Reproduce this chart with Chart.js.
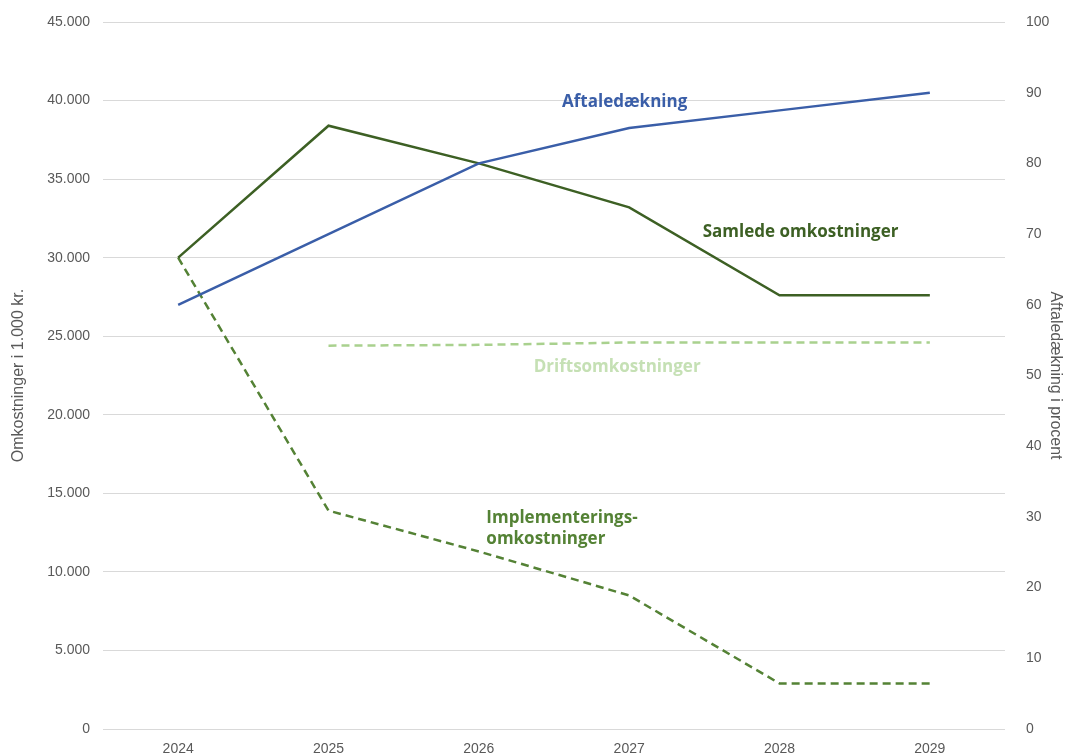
<!DOCTYPE html>
<html><head><meta charset="utf-8">
<script src="https://cdn.jsdelivr.net/npm/chart.js@4/dist/chart.umd.min.js"></script>
<style>html,body{margin:0;padding:0;background:#fff}#wrap{width:1069px;height:754px}</style>
</head><body><div id="wrap"><canvas id="c"></canvas></div>
<script>
const years = ['2024','2025','2026','2027','2028','2029'];
const samlede = [30000, 38400, 36000, 33200, 27600, 27600];
const implementering = [30000, 13900, 11300, 8500, 2900, 2900];
const drift = [null, 24400, 24450, 24600, 24600, 24600];
const aftaledaekning = [60, 70, 80, 85, 87.5, 90];

const labels = [
  {text:['Aftaledækning'], x:2.97, y:39900, color:'#3a5ea8', align:'center'},
  {text:['Samlede omkostninger'], x:4.14, y:31600, color:'#3d6024', align:'center'},
  {text:['Driftsomkostninger'], x:2.92, y:23000, color:'#c5e0b4', align:'center'},
  {text:['Implementerings-','omkostninger'], x:2.05, y:13450, color:'#548235', align:'left'}
];

const labelPlugin = {
  id:'lbl',
  afterDatasetsDraw(chart){
    const ctx = chart.ctx, xs = chart.scales.x, ys = chart.scales.y;
    ctx.save();
    ctx.font = 'bold 17px "Open Sans"';
    ctx.textBaseline = 'middle';
    labels.forEach(l=>{
      const px = xs.getPixelForValue(0) + (xs.getPixelForValue(1)-xs.getPixelForValue(0))*l.x;
      const py = ys.getPixelForValue(l.y);
      ctx.fillStyle = l.color; ctx.textAlign = l.align;
      l.text.forEach((t,i)=>ctx.fillText(t, px, py + i*21));
    });
    ctx.restore();
  }
};

const fmt = v => v.toLocaleString('da-DK');

new Chart(document.getElementById('c'), {
  type:'line',
  data:{labels:years, datasets:[
    {label:'Aftaledækning', data:aftaledaekning, yAxisID:'y2', borderColor:'#3a5ea8', borderWidth:2.5, pointRadius:0, tension:0},
    {label:'Samlede omkostninger', data:samlede, yAxisID:'y', borderColor:'#3d6024', borderWidth:2.5, pointRadius:0, tension:0},
    {label:'Driftsomkostninger', data:drift, yAxisID:'y', borderColor:'#a9d18e', borderWidth:2.5, borderDash:[8,5], pointRadius:0, tension:0},
    {label:'Implementeringsomkostninger', data:implementering, yAxisID:'y', borderColor:'#548235', borderWidth:2.5, borderDash:[8,5], pointRadius:0, tension:0}
  ]},
  options:{
    responsive:true, maintainAspectRatio:false, animation:false,
    layout:{padding:{top:22,bottom:0,left:0,right:0}},
    plugins:{legend:{display:false}, tooltip:{enabled:false}},
    scales:{
      x:{offset:true, grid:{display:false}, border:{display:false},
         ticks:{color:'#595959', font:{family:'"Liberation Sans"', size:14}, padding:4},
         afterFit(s){s.height=25;}},
      y:{position:'left', min:0, max:45000, 
         grid:{color:'#d9d9d9', lineWidth:1, drawTicks:false}, border:{display:false},
         ticks:{stepSize:5000, color:'#595959', font:{family:'"Liberation Sans"', size:14}, padding:13, callback:v=>fmt(v)},
         title:{display:true, text:'Omkostninger i 1.000 kr.', color:'#595959', font:{family:'"Liberation Sans"', size:16}, padding:{top:9,bottom:4}},
         afterFit(s){s.width=103;}},
      y2:{position:'right', min:0, max:100,
         grid:{display:false}, border:{display:false},
         ticks:{stepSize:10, color:'#595959', font:{family:'"Liberation Sans"', size:14}, padding:13},
         title:{display:true, text:'Aftaledækning i procent', color:'#595959', font:{family:'"Liberation Sans"', size:16}, padding:{top:4,bottom:2}},
         afterFit(s){s.width=64;}}
    }
  },
  plugins:[labelPlugin]
});
</script></body></html>
